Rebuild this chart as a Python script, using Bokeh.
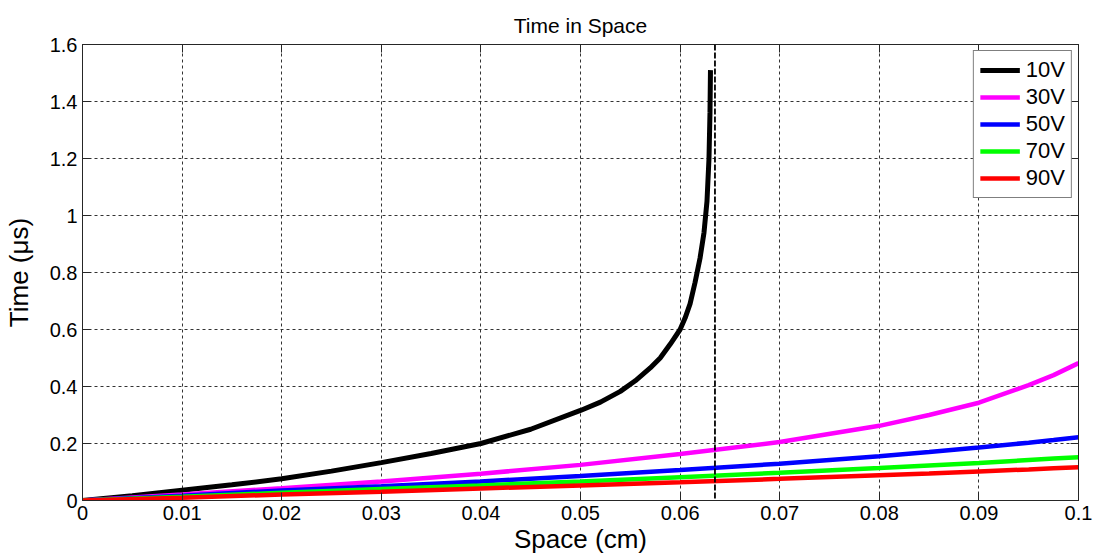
from bokeh.plotting import figure
from bokeh.models import Range1d, FixedTicker, LinearAxis, Span, Legend
from bokeh.embed import file_html
from bokeh.resources import INLINE

# ---- data ----
x_10v = [0.0, 0.005, 0.01, 0.015, 0.02, 0.025, 0.03, 0.035, 0.04, 0.045, 0.05,
         0.052, 0.054, 0.0555, 0.057, 0.058, 0.059, 0.06, 0.0605, 0.061, 0.0615,
         0.062, 0.0624, 0.0627, 0.0629, 0.063, 0.06305]
t_10v = [0.0, 0.017, 0.036, 0.055, 0.076, 0.103, 0.133, 0.165, 0.2, 0.25, 0.316,
         0.345, 0.383, 0.42, 0.465, 0.50, 0.548, 0.60, 0.64, 0.69, 0.765,
         0.85, 0.94, 1.05, 1.2, 1.36, 1.51]

x_common = [0.0, 0.01, 0.02, 0.03, 0.04, 0.05, 0.06, 0.07, 0.08, 0.085, 0.09, 0.095, 0.0975, 0.1]
t_30v = [0.0, 0.021, 0.043, 0.067, 0.094, 0.125, 0.163, 0.205, 0.262, 0.300, 0.343, 0.405, 0.44, 0.482]
t_50v = [0.0, 0.017, 0.035, 0.050, 0.067, 0.086, 0.107, 0.129, 0.155, 0.170, 0.186, 0.203, 0.212, 0.222]
t_70v = [0.0, 0.013, 0.027, 0.040, 0.053, 0.067, 0.082, 0.097, 0.114, 0.123, 0.132, 0.142, 0.147, 0.152]
t_90v = [0.0, 0.010, 0.021, 0.031, 0.042, 0.053, 0.064, 0.076, 0.089, 0.095, 0.102, 0.109, 0.113, 0.117]

critical_x = 0.0635

series_labels = ["10V", "30V", "50V", "70V", "90V"]
series_colors = ["#000000", "#FF00FF", "#0000FF", "#00FF00", "#FF0000"]

x_ticks = [0, 0.01, 0.02, 0.03, 0.04, 0.05, 0.06, 0.07, 0.08, 0.09, 0.1]
x_tick_labels = ["0", "0.01", "0.02", "0.03", "0.04", "0.05", "0.06", "0.07", "0.08", "0.09", "0.1"]
y_ticks = [0, 0.2, 0.4, 0.6, 0.8, 1.0, 1.2, 1.4, 1.6]
y_tick_labels = ["0", "0.2", "0.4", "0.6", "0.8", "1", "1.2", "1.4", "1.6"]

FONT = "Liberation Sans"
AX_COLOR = "#262626"

p = figure(width=1097, height=559,
           x_range=Range1d(0, 0.1), y_range=Range1d(0, 1.6),
           output_backend="svg", toolbar_location=None,
           min_border_left=82, min_border_right=19, min_border_top=44, min_border_bottom=59,
           x_axis_label="Space (cm)", y_axis_label="Time (μs)",
           title="Time in Space")
p.background_fill_color = "white"
p.border_fill_color = "white"
p.outline_line_color = AX_COLOR
p.outline_line_width = 1

p.title.text_font = FONT
p.title.text_font_size = "21px"
p.title.text_font_style = "normal"
p.title.align = "center"
p.title.vertical_align = "top"
p.title.text_color = "#000000"
p.title.standoff = 12

for ax, ticks, labels in ((p.xaxis[0], x_ticks, x_tick_labels), (p.yaxis[0], y_ticks, y_tick_labels)):
    ax.ticker = FixedTicker(ticks=ticks)
    ax.major_label_overrides = {t: l for t, l in zip(ticks, labels)}
    ax.major_label_text_font = FONT
    ax.major_label_text_font_size = "20px"
    ax.major_label_text_color = "#000000"
    ax.axis_label_text_font = FONT
    ax.axis_label_text_font_size = "26px"
    ax.axis_label_text_font_style = "normal"
    ax.axis_label_text_color = "#000000"
    ax.major_tick_in = 8
    ax.major_tick_out = 0
    ax.minor_tick_line_color = None
    ax.axis_line_color = AX_COLOR
    ax.major_tick_line_color = AX_COLOR

p.xaxis[0].major_label_standoff = 5
p.xaxis[0].axis_label_standoff = 1
p.yaxis[0].major_label_standoff = 5
p.yaxis[0].axis_label_standoff = 13

# box ticks on top/right (labels not drawn)
top_ax = LinearAxis(ticker=FixedTicker(ticks=x_ticks), major_label_text_color=None,
                    major_label_text_font_size="1px",
                    major_tick_in=8, major_tick_out=0, minor_tick_line_color=None,
                    axis_line_color=AX_COLOR, major_tick_line_color=AX_COLOR,
                    major_label_standoff=0)
right_ax = LinearAxis(ticker=FixedTicker(ticks=y_ticks), major_label_text_color=None,
                      major_label_text_font_size="1px",
                      major_tick_in=8, major_tick_out=0, minor_tick_line_color=None,
                      axis_line_color=AX_COLOR, major_tick_line_color=AX_COLOR,
                      major_label_standoff=0)
p.add_layout(top_ax, "above")
p.add_layout(right_ax, "right")

p.xgrid[0].ticker = FixedTicker(ticks=x_ticks)
p.ygrid[0].ticker = FixedTicker(ticks=y_ticks)
for g in (p.xgrid[0], p.ygrid[0]):
    g.grid_line_color = "#333333"
    g.grid_line_dash = "3 3"
    g.grid_line_width = 1

xs = [x_10v, x_common, x_common, x_common, x_common]
ys = [t_10v, t_30v, t_50v, t_70v, t_90v]
items = []
for xv, yv, lab, col in zip(xs, ys, series_labels, series_colors):
    r = p.line(xv, yv, line_color=col, line_width=5 if lab == "10V" else 4.5)
    items.append((lab, [r]))

p.add_layout(Span(location=critical_x, dimension="height", line_color="#000000",
                  line_dash="6 2", line_width=1.8))

legend = Legend(items=items, location="top_right")
legend.label_text_font = FONT
legend.label_text_font_size = "22px"
legend.label_text_color = "#000000"
legend.glyph_width = 40
legend.glyph_height = 26
legend.label_height = 26
legend.spacing = 1
legend.padding = 6
legend.margin = 6
legend.label_standoff = 6
legend.border_line_color = "#000000"
legend.border_line_width = 1
legend.background_fill_color = "white"
legend.background_fill_alpha = 1
p.add_layout(legend, "center")

open("out.html", "w").write(file_html(p, INLINE))
